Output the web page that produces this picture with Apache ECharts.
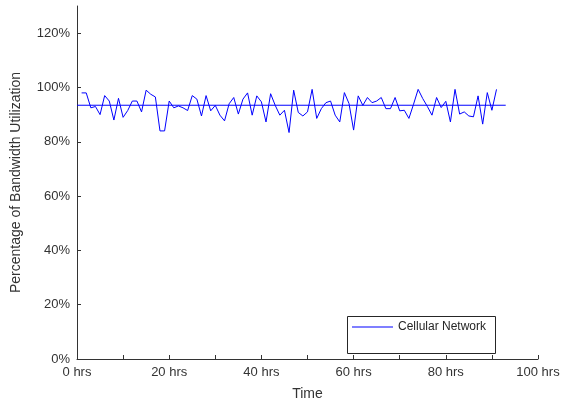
<!DOCTYPE html>
<html>
<head>
<meta charset="utf-8">
<script src="https://cdn.jsdelivr.net/npm/echarts@6/dist/echarts.min.js"></script>
<style>html,body{margin:0;padding:0;background:#fff;}#c{width:565px;height:406px;}</style>
</head>
<body>
<div id="c"></div>
<script>
var hours = [1,2,3,4,5,6,7,8,9,10,11,12,13,14,15,16,17,18,19,20,21,22,23,24,25,26,27,28,29,30,
  31,32,33,34,35,36,37,38,39,40,41,42,43,44,45,46,47,48,49,50,51,52,53,54,55,56,57,58,59,60,
  61,62,63,64,65,66,67,68,69,70,71,72,73,74,75,76,77,78,79,80,81,82,83,84,85,86,87,88,89,90,91];
var utilization = [98,98,92.5,93,90,97,95,88,96,89,91.5,95,95,91,99,97.5,96.5,84,84,95,
  92.5,93.2,92.5,91.5,97,95.7,89.5,97,91.4,93.4,89.8,87.7,94,96.3,90.2,95.7,98,89.8,96.9,94.7,
  87.3,97.7,93.4,89.8,91.6,83.4,99,90.8,89.5,91,99.3,88.6,92.2,94.4,95,89.8,87.3,98.1,94.1,84.3,
  96.9,93.4,96.3,94.4,95,96.3,92.2,92.2,96.3,91.4,91.6,88.6,93.8,99.3,95.9,93,89.8,96.3,92.6,94.9,
  87.3,99.3,90.2,91,89.5,89.2,96.9,86.5,98.1,91.6,99.3];
var meanHours = [0, 93];
var meanValue = [93.45, 93.45];
var xLabelValues = [0,20,40,60,80,100];
var xTickValues = [0,10,20,30,40,50,60,70,80,90,100];
var yLabelValues = [0,20,40,60,80,100,120];
var seriesName = 'Cellular Network';

var chart = echarts.init(document.getElementById('c'));
var axisColor = '#333';
var blue = '#0000ff';
var font = 'Liberation Sans, Arial, Helvetica, sans-serif';
chart.setOption({
  animation: false,
  backgroundColor: '#fff',
  grid: {left: 77, right: 27, top: 6, bottom: 46, containLabel: false},
  xAxis: {
    type: 'value', min: 0, max: 100, interval: 10,
    name: 'Time', nameLocation: 'middle', nameGap: 28,
    nameTextStyle: {color: axisColor, fontSize: 14, fontFamily: font},
    axisLine: {show: true, lineStyle: {color: axisColor, width: 1}},
    axisTick: {show: true, inside: true, length: 4, customValues: xTickValues, lineStyle: {color: axisColor}},
    axisLabel: {customValues: xLabelValues, color: axisColor, fontSize: 13, fontFamily: font, margin: 7,
      formatter: function (v) { return v + ' hrs'; }},
    splitLine: {show: false}
  },
  yAxis: {
    type: 'value', min: 0, max: 130, interval: 10,
    name: 'Percentage of Bandwidth Utilization', nameLocation: 'middle', nameGap: 54,
    nameTextStyle: {color: axisColor, fontSize: 14, fontFamily: font},
    axisLine: {show: true, lineStyle: {color: axisColor, width: 1}},
    axisTick: {show: true, inside: true, length: 4, customValues: yLabelValues, lineStyle: {color: axisColor}},
    axisLabel: {customValues: yLabelValues, color: axisColor, fontSize: 13, fontFamily: font, margin: 7,
      formatter: function (v) { return v + '%'; }},
    splitLine: {show: false}
  },
  graphic: [{
    type: 'rect', left: 347, top: 316, z: 10,
    shape: {width: 148, height: 37},
    style: {fill: '#fff', stroke: '#262626', lineWidth: 1}
  }],
  legend: {
    data: [{name: seriesName, icon: 'rect'}], left: 352, top: 320, z: 20, padding: 0,
    itemWidth: 41, itemHeight: 1,
    textStyle: {color: '#262626', fontSize: 12, fontFamily: font, lineHeight: 14}
  },
  series: [{
    name: seriesName, type: 'line', showSymbol: false, symbol: 'none', color: blue,
    data: hours.map(function (h, i) { return [h, utilization[i]]; }),
    lineStyle: {color: blue, width: 1}, itemStyle: {color: blue}
  }, {
    name: 'Mean', type: 'line', showSymbol: false, symbol: 'none', color: blue,
    data: meanHours.map(function (h, i) { return [h, meanValue[i]]; }),
    lineStyle: {color: blue, width: 1}, itemStyle: {color: blue}
  }]
});
</script>
</body>
</html>
